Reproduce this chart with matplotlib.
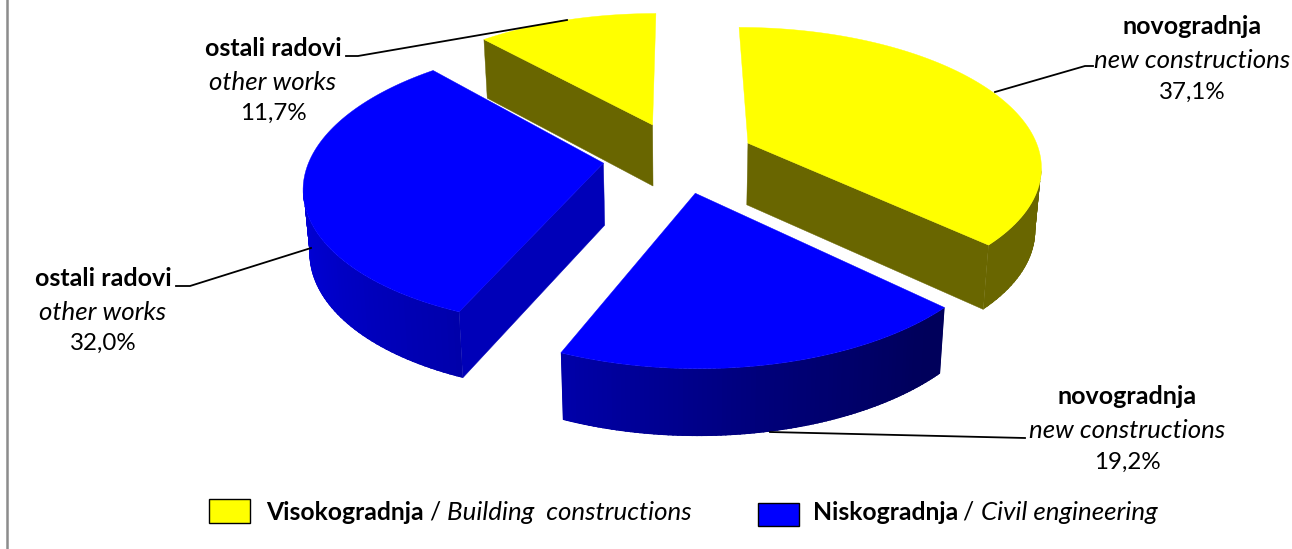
import numpy as np
import matplotlib.pyplot as plt
from matplotlib.patches import Rectangle, Polygon
from matplotlib.collections import PolyCollection

plt.rcParams['font.family'] = ['Lato', 'DejaVu Sans']

# udjeli, pocinje od 12 sati i ide u smjeru kazaljke
categories = ['novogradnja', 'novogradnja', 'ostali radovi', 'ostali radovi']
categories_en = ['new constructions', 'new constructions', 'other works', 'other works']
values = [37.1, 19.2, 32.0, 11.7]
value_labels = ['37,1%', '19,2%', '32,0%', '11,7%']
groups = ['visoko', 'nisko', 'nisko', 'visoko']

# projekcija diska
X0, Y0 = 679, 157
A, B = 293, 137
K = 0.15
EXPLODE = 0.26
H = 62
LEAN = 0.017

top_color = {'visoko': '#ffff00', 'nisko': '#0000ff'}
# koje se rezne stranice vide (0 = pocetak, -1 = kraj isjecka)
visible_cut = [[-1], [], [0], [0]]


def project(u, v, z=0.0):
    s = 1 / (1 + K * v)
    x = X0 + A * u * s * (1 - LEAN * z)
    y = Y0 - B * v * s + H * z * s ** 0.4
    return x, y


def wall_color(group, theta):
    if group == 'visoko':
        return (0.41, 0.40, 0.0)
    t = theta % 360
    f = np.interp(t, [100, 140, 170, 205, 240, 275], [0.33, 0.36, 0.48, 0.68, 0.80, 0.88])
    return (0, 0, f)


fig = plt.figure(figsize=(12.92, 5.49), dpi=100)
ax = fig.add_axes([0, 0, 1, 1])
ax.set_xlim(0, 1292)
ax.set_ylim(549, 0)
ax.axis('off')

ax.plot([6.5, 6.5], [0, 549], color='#8c8c8c', lw=1.8)

edges = np.concatenate([[0], np.cumsum(values)]) / sum(values) * 360
slices = []
for i in range(len(values)):
    t0, t1 = edges[i], edges[i + 1]
    mid = np.radians((t0 + t1) / 2)
    ox, oy = EXPLODE * np.sin(mid), EXPLODE * np.cos(mid)
    th = np.radians(np.linspace(t0, t1, 90))
    slices.append((i, t0, t1, ox, oy, th))

# crtanje od straznjih prema prednjima
for i, t0, t1, ox, oy, th in sorted(slices, key=lambda p: p[4], reverse=True):
    g = groups[i]
    u = ox + np.sin(th)
    v = oy + np.cos(th)
    x_top, y_top = project(u, v)
    ax_x, ax_y = project(ox, oy)
    ax_xb, ax_yb = project(ox, oy, 1)

    # bocne stranice rezova
    for j in visible_cut[i]:
        xb, yb = project(u[j], v[j], 1)
        quad = [(ax_x, ax_y), (x_top[j], y_top[j]), (xb, yb), (ax_xb, ax_yb)]
        c = (0.41, 0.40, 0.0) if g == 'visoko' else (0, 0, 0.72)
        ax.add_patch(Polygon(quad, closed=True, fc=c, ec=c, lw=0.3, zorder=2 + i * 0.01))

    # vanjski zid samo izmedu krajnje desne i krajnje lijeve tocke luka
    front = np.ones(len(th), dtype=bool)
    if t0 < 180:
        front[:np.argmax(x_top)] = False
    if t1 > 180:
        front[np.argmin(x_top) + 1:] = False
    if front.sum() > 1:
        xt, yt = x_top[front], y_top[front]
        xb, yb = project(u[front], v[front], 1)
        tf = th[front]
        quads = []
        cols = []
        for k in range(len(tf) - 1):
            quads.append([(xt[k], yt[k]), (xt[k + 1], yt[k + 1]),
                          (xb[k + 1], yb[k + 1]), (xb[k], yb[k])])
            cols.append(wall_color(g, np.degrees(tf[k])))
        pc = PolyCollection(quads, facecolors=cols, edgecolors=cols, linewidths=1.2, zorder=2.5)
        ax.add_collection(pc)
        outline = np.column_stack([np.r_[xt, xb[::-1]], np.r_[yt, yb[::-1]]])
        pc.set_clip_path(Polygon(outline, closed=True, transform=ax.transData))

    top = np.column_stack([np.r_[ax_x, x_top], np.r_[ax_y, y_top]])
    ax.add_patch(Polygon(top, closed=True, fc=top_color[g], ec=top_color[g], lw=0.3, zorder=3))

# pozicije oznaka
label_pos = [(1192, 27), (1127, 397), (103, 278), (273, 48)]
leaders = [
    [(995, 92), (1085, 66), (1093, 66)],
    [(770, 432), (1025, 438)],
    [(311, 248), (190, 286), (176, 286)],
    [(567, 20), (358, 56), (346, 56)],
]
for i in range(len(values)):
    x, y = label_pos[i]
    ax.text(x, y, categories[i], fontsize=18, fontweight='bold', ha='center', va='center', color='black')
    ax.text(x, y + 34, categories_en[i], fontsize=18.6, style='italic', ha='center', va='center', color='black')
    ax.text(x, y + 65, value_labels[i], fontsize=17.4, ha='center', va='center', color='black')
    xs, ys = zip(*leaders[i])
    ax.plot(xs, ys, color='black', lw=1.3, zorder=4)

# legenda
ax.add_patch(Rectangle((209, 499), 41, 24, fc='#ffff00', ec='black', lw=1))
ax.text(266, 512, 'Visokogradnja', fontsize=17.8, fontweight='bold', va='center')
ax.text(435, 512, '/', fontsize=17.8, va='center', ha='center')
ax.text(447, 512, 'Building  constructions', fontsize=18.6, style='italic', va='center')
ax.add_patch(Rectangle((758, 503), 41, 23, fc='#0000ff', ec='black', lw=1))
ax.text(813, 512, 'Niskogradnja', fontsize=17.8, fontweight='bold', va='center')
ax.text(968, 512, '/', fontsize=17.8, va='center', ha='center')
ax.text(981, 512, 'Civil engineering', fontsize=18.6, style='italic', va='center')

fig.savefig('out.png', dpi=100)
